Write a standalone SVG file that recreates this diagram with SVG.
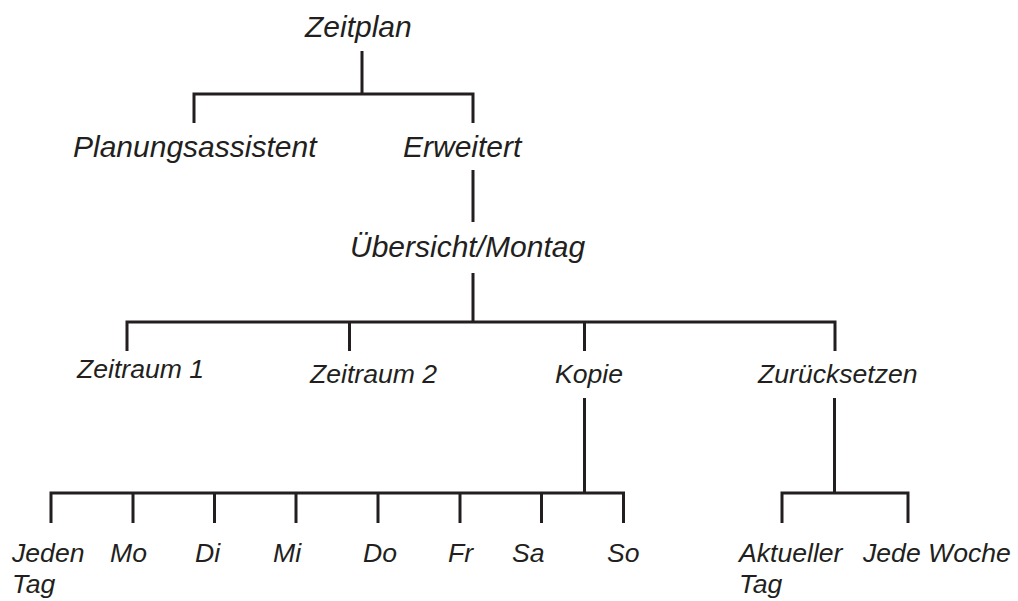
<svg xmlns="http://www.w3.org/2000/svg" width="1018" height="601" viewBox="0 0 1018 601">
<style>
text{font-family:"Liberation Sans",Arial,sans-serif;font-style:italic;fill:#231f20}
.l{font-size:30px}
.s{font-size:26.6px}
.c{fill:none;stroke:#231f20;stroke-width:3;stroke-linecap:butt;stroke-linejoin:miter}
</style>
<rect width="1018" height="601" fill="#fff"/>
<g id="connectors">
<path class="c" d="M362 51V94M194 123V94H473V123"/>
<path class="c" d="M473 170V222"/>
<path class="c" d="M473 273V322M127 351V322H835V351M349.5 322V351M584.5 322V351"/>
<path class="c" d="M584.5 398V493M51 523V493H623.5V523M133 493V523M214.5 493V523M296 493V523M378 493V523M460 493V523M541.5 493V523"/>
<path class="c" d="M834.5 398V493M782 523V493H908V523"/>
</g>
<g id="n-zeitplan"><text class="l" x="305" y="37">Zeitplan</text></g>
<g id="n-planungsassistent"><text class="l" x="73" y="157">Planungsassistent</text></g>
<g id="n-erweitert"><text class="l" x="403" y="157">Erweitert</text></g>
<g id="n-uebersicht"><text class="l" x="350" y="257">Übersicht/Montag</text></g>
<g id="n-zeitraum1"><text class="s" x="77" y="378">Zeitraum 1</text></g>
<g id="n-zeitraum2"><text class="s" x="310" y="383">Zeitraum 2</text></g>
<g id="n-kopie"><text class="s" x="555" y="383">Kopie</text></g>
<g id="n-zuruecksetzen"><text class="s" x="758" y="383">Zurücksetzen</text></g>
<g id="n-jedentag"><text class="s" x="12" y="562">Jeden</text><text class="s" x="12" y="593">Tag</text></g>
<g id="n-mo"><text class="s" x="110" y="562">Mo</text></g>
<g id="n-di"><text class="s" x="195" y="562">Di</text></g>
<g id="n-mi"><text class="s" x="273" y="562">Mi</text></g>
<g id="n-do"><text class="s" x="363" y="562">Do</text></g>
<g id="n-fr"><text class="s" x="448" y="562">Fr</text></g>
<g id="n-sa"><text class="s" x="512" y="562">Sa</text></g>
<g id="n-so"><text class="s" x="607" y="562">So</text></g>
<g id="n-aktuellertag"><text class="s" x="739" y="562">Aktueller</text><text class="s" x="739" y="593">Tag</text></g>
<g id="n-jedewoche"><text class="s" x="863" y="562">Jede Woche</text></g>
</svg>
